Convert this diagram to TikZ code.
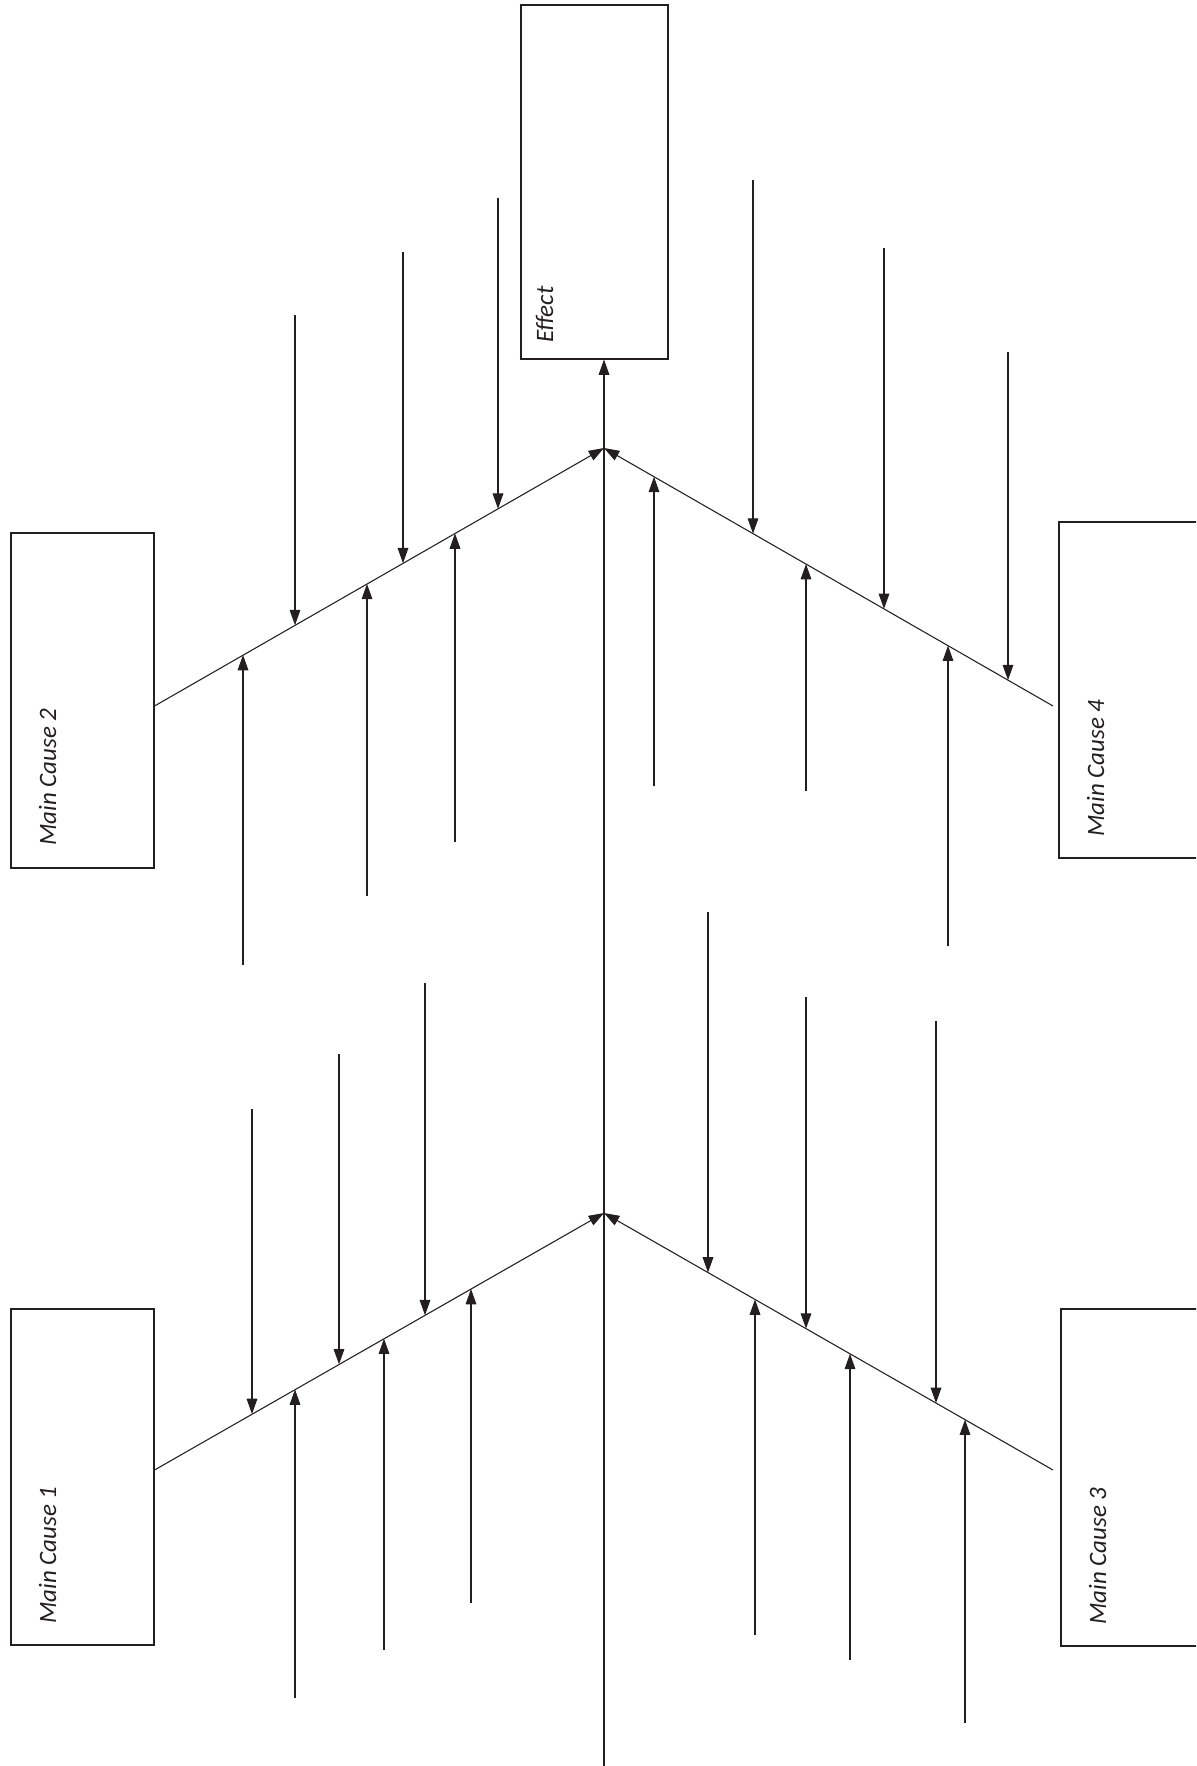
\documentclass[tikz,border=0pt]{standalone}
\usepackage{fontspec}
\setmainfont{Carlito}
\usetikzlibrary{arrows.meta,calc,fit}

\definecolor{ink}{RGB}{35,31,32}

\begin{document}
\begin{tikzpicture}[x=0.75pt,y=-0.75pt,
  causebox/.style={draw=ink, line width=0.8pt, inner sep=0pt, fill=none},
  lbl/.style={font=\fontsize{18.75}{22}\selectfont\itshape, text=ink, inner sep=0pt, rotate=90, anchor=base west},
  bone/.style={draw=ink, line width=0.8pt},
  arr/.style={bone, -{Triangle[length=11.5pt, width=8pt]}}
]
\useasboundingbox (0,0) rectangle (1196,1766);
\clip (0,0) rectangle (1196,1766);

% boxes
\node[causebox, fit={(521,5) (668,359)}] (eff) {};
\node[causebox, fit={(11,533) (154,868)}] (mc2) {};
\node[causebox, fit={(1059,522) (1220,858)}] (mc4) {};
\node[causebox, fit={(11,1309) (154,1645)}] (mc1) {};
\node[causebox, fit={(1061,1309) (1220,1646)}] (mc3) {};

% labels
\node[lbl] (efft) at (553,343) {Effect};
\node[lbl] (mc2t) at (56,846) {Main Cause 2};
\node[lbl] (mc4t) at (1104,837) {Main Cause 4};
\node[lbl] (mc1t) at (56,1624) {Main Cause 1};
\node[lbl] (mc3t) at (1106,1625) {Main Cause 3};

% spine and junctions
\coordinate (tail) at (604,1766);
\coordinate (j1) at (604,448);
\coordinate (j2) at (604,1213);
\coordinate (b2) at (mc2.east |- 0,706);
\coordinate (b4) at (1053,706);
\coordinate (b1) at (mc1.east |- 0,1470);
\coordinate (b3) at (1053,1470);

\draw[arr] (tail) -- (j1 |- eff.south);
\draw[arr] (b2) -- (j1);
\draw[arr] (b4) -- (j1);
\draw[arr] (b1) -- (j2);
\draw[arr] (b3) -- (j2);

% sub-causes: free end, then point on its bone
% Main Cause 2
\foreach \n/\x/\y/\t in {a/295/315/0.3133, b/403/252/0.5533, c/498/198/0.7644,
                         d/243/965/0.1978, e/367/896/0.4733, f/455/842/0.6689} {
  \coordinate (u2\n) at (\x,\y);
  \coordinate (h2\n) at ($(b2)!\t!(j1)$);
  \draw[arr] (u2\n) -- (u2\n |- h2\n);
}
% Main Cause 4
\foreach \n/\x/\y/\t in {a/753/180/0.3318, b/884/248/0.6236, c/1008/352/0.8998,
                         d/654/786/0.1114, e/806/791/0.4499, f/948/946/0.7661} {
  \coordinate (u4\n) at (\x,\y);
  \coordinate (h4\n) at ($(j1)!\t!(b4)$);
  \draw[arr] (u4\n) -- (u4\n |- h4\n);
}
% Main Cause 1
\foreach \n/\x/\y/\t in {a/252/1109/0.2178, b/339/1054/0.4111, c/425/983/0.6022,
                         d/295/1698/0.3133, e/384/1650/0.5111, f/471/1603/0.7044} {
  \coordinate (u1\n) at (\x,\y);
  \coordinate (h1\n) at ($(b1)!\t!(j2)$);
  \draw[arr] (u1\n) -- (u1\n |- h1\n);
}
% Main Cause 3
\foreach \n/\x/\y/\t in {a/708/912/0.2316, b/806/997/0.4499, c/936/1021/0.7394,
                         d/755/1635/0.3363, e/850/1660/0.5479, f/965/1723/0.8040} {
  \coordinate (u3\n) at (\x,\y);
  \coordinate (h3\n) at ($(j2)!\t!(b3)$);
  \draw[arr] (u3\n) -- (u3\n |- h3\n);
}
\end{tikzpicture}
\end{document}
